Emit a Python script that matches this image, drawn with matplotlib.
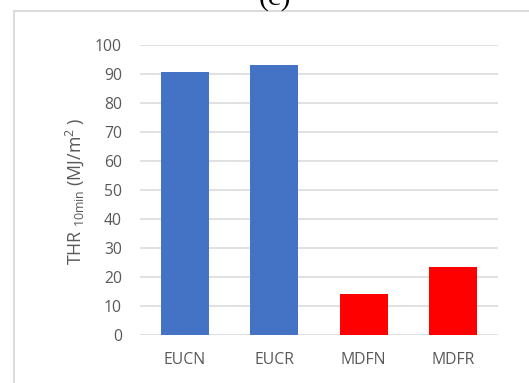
import matplotlib
matplotlib.use("Agg")
import matplotlib.pyplot as plt
from matplotlib.lines import Line2D

# Total heat release after 10 minutes for each sample
categories = ["EUCN", "EUCR", "MDFN", "MDFR"]
thr_values = [90.7, 93.0, 14.1, 23.6]
bar_colors = ["#4472C4", "#4472C4", "#FF0000", "#FF0000"]
y_ticks = [0, 10, 20, 30, 40, 50, 60, 70, 80, 90, 100]

plt.rcParams["font.family"] = ["Open Sans", "DejaVu Sans"]
plt.rcParams["mathtext.default"] = "regular"

W, H = 529, 383
fig = plt.figure(figsize=(W / 100, H / 100), dpi=100)
fig.patch.set_facecolor("white")

ax_left, ax_right = 140, 498
ax_top, ax_bottom = 45, 335
ax = fig.add_axes([ax_left / W, 1 - ax_bottom / H,
                   (ax_right - ax_left) / W, (ax_bottom - ax_top) / H])

x = range(len(categories))
ax.bar(x, thr_values, width=0.54, color=bar_colors, zorder=3)

ax.set_xlim(-0.5, len(categories) - 0.5)
ax.set_ylim(0, 100)
ax.set_yticks(y_ticks)
ax.set_xticks(list(x))
ax.set_xticklabels(categories)

ax.grid(axis="y", color="#d9d9d9", linewidth=1.1, zorder=0)
ax.set_axisbelow(True)
for s in ax.spines.values():
    s.set_visible(False)
ax.tick_params(axis="both", length=0, labelsize=11.3, labelcolor="#595959")
ax.tick_params(axis="y", pad=13)
ax.tick_params(axis="x", pad=12)

fig.text(75 / W, 1 - 191 / H, "THR$_{\\ 10min}$ (MJ/m$^{2}$ )",
         rotation=90, ha="center", va="center", fontsize=12.8, color="#595959")

# panel letter, partly above the frame
fig.text(275 / W, 1 - 5 / H, "(c)", ha="center", va="baseline",
         fontsize=21, family=["Liberation Serif"], color="black")

# chart-area frame (top and left edges)
fig.add_artist(Line2D([13.5 / W, 13.5 / W], [0, 1 - 10.5 / H],
                      transform=fig.transFigure, color="#d9d9d9", linewidth=1.3))
fig.add_artist(Line2D([13.5 / W, 1], [1 - 10.5 / H, 1 - 10.5 / H],
                      transform=fig.transFigure, color="#d9d9d9", linewidth=1.3))

fig.savefig("out.png", dpi=100, facecolor="white")
